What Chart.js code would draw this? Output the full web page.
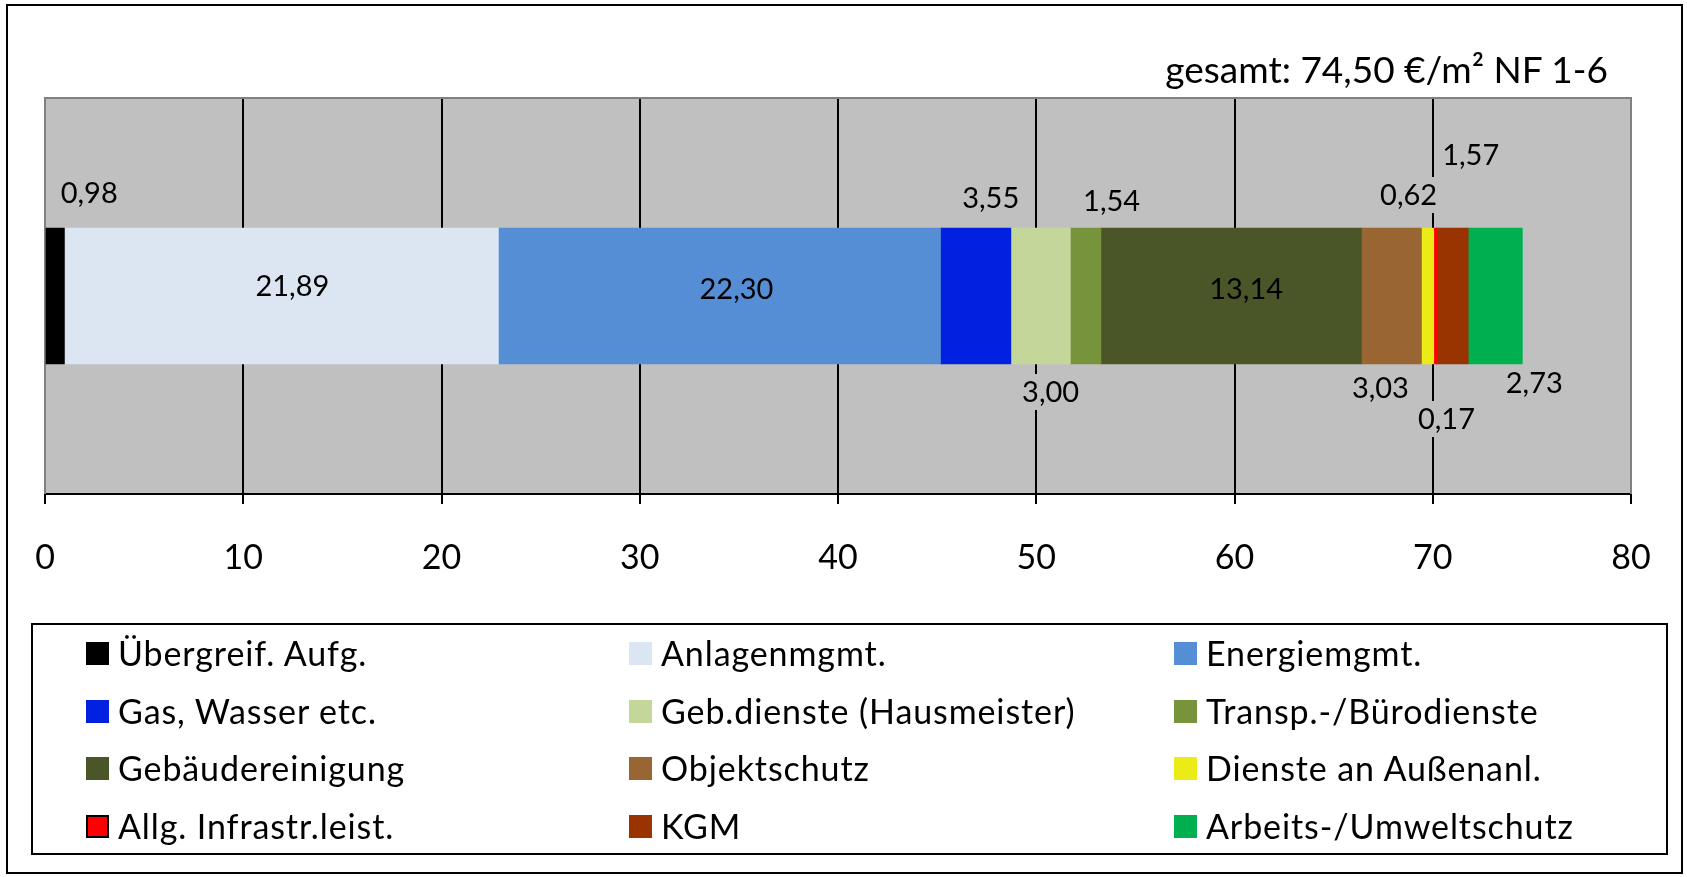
<!DOCTYPE html>
<html>
<head>
<meta charset="utf-8">
<script src="https://cdn.jsdelivr.net/npm/chart.js@4/dist/chart.umd.min.js"></script>
<style>
    html, body { margin: 0; padding: 0; background: #fff; }
    #wrap { position: relative; width: 1687px; height: 877px; font-family: Lato, 'Open Sans', sans-serif; color: #000; }
    #frame { position: absolute; left: 6px; top: 4px; width: 1673px; height: 866px; border: 2px solid #000; }
    #chart { position: absolute; left: 0; top: 0; }
    #title { position: absolute; right: 79px; top: 46px; font-size: 37px; line-height: 46px; white-space: nowrap; }
    #legend { position: absolute; left: 31px; top: 623px; width: 1633px; height: 228px; border: 2px solid #000; }
    .item { position: absolute; font-size: 34px; letter-spacing: 0.9px; line-height: 40px; white-space: nowrap; }
    .item span.box { position: absolute; left: 0; top: 9px; width: 23px; height: 23px; }
    .item span.txt { position: absolute; left: 32px; top: 0; }
</style>
</head>
<body>
<div id="wrap">
    <canvas id="chart" width="1687" height="877"></canvas>
    <div id="frame"></div>
    <div id="title">gesamt: 74,50 €/m² NF 1-6</div>
    <div id="legend"></div>
</div>
<script>
// ===========================
// Kostenaufteilung (horizontal gestapelt)
// ===========================

const CATEGORIES = ['NF 1-6'];

const SERIES_NAMES = [
    'Übergreif. Aufg.', 'Anlagenmgmt.', 'Energiemgmt.',
    'Gas, Wasser etc.', 'Geb.dienste (Hausmeister)', 'Transp.-/Bürodienste',
    'Gebäudereinigung', 'Objektschutz', 'Dienste an Außenanl.',
    'Allg. Infrastr.leist.', 'KGM', 'Arbeits-/Umweltschutz'
];

const SERIES_VALUES = [0.98, 21.89, 22.30, 3.55, 3.00, 1.54, 13.14, 3.03, 0.62, 0.17, 1.57, 2.73];

const X_TICKS = [0, 10, 20, 30, 40, 50, 60, 70, 80];

const COLORS = [
    '#000000', '#dce6f2', '#558ed5',
    '#0022e0', '#c4d79b', '#77933c',
    '#4a5628', '#996633', '#ebeb17',
    '#ff0000', '#993300', '#00b050'
];

// label placement relative to the segment centre (px)
const LABEL_DX = [34, 11, 17, 15, 10, 26, 15, -11, -19, 11, 18, 39];
const LABEL_DY = [-103, -10, -7, -98, 96, -95, -7, 92, -101, 123, -141, 87];
const LABEL_INSIDE = [false, true, true, false, false, false, true, false, false, false, false, false];

const PLOT_BG = '#c0c0c0';

// plot background + grey frame
const plotFrame = {
    id: 'plotFrame',
    beforeDraw(chart) {
        const a = chart.chartArea;
        const ctx = chart.ctx;
        ctx.save();
        ctx.fillStyle = PLOT_BG;
        ctx.fillRect(a.left, a.top, a.right - a.left, a.bottom - a.top);
        ctx.restore();
    },
    beforeDatasetsDraw(chart) {
        const a = chart.chartArea;
        const ctx = chart.ctx;
        ctx.save();
        ctx.strokeStyle = '#808080';
        ctx.lineWidth = 2;
        ctx.beginPath();
        ctx.moveTo(a.left, a.bottom);
        ctx.lineTo(a.left, a.top);
        ctx.lineTo(a.right, a.top);
        ctx.lineTo(a.right, a.bottom);
        ctx.stroke();
        ctx.restore();
    }
};

// value labels, German decimal comma
const valueLabels = {
    id: 'valueLabels',
    afterDatasetsDraw(chart) {
        const ctx = chart.ctx;
        ctx.save();
        ctx.font = '29px Lato';
        ctx.textAlign = 'center';
        ctx.textBaseline = 'middle';
        chart.data.datasets.forEach((ds, i) => {
            const bar = chart.getDatasetMeta(i).data[0];
            if (!bar) return;
            const text = ds.data[0].toFixed(2).replace('.', ',');
            const x = (bar.x + bar.base) / 2 + LABEL_DX[i];
            const y = bar.y + LABEL_DY[i];
            if (!LABEL_INSIDE[i]) {
                const w = ctx.measureText(text).width;
                ctx.fillStyle = PLOT_BG;
                ctx.fillRect(x - w / 2 - 4, y - 18, w + 8, 36);
            }
            ctx.fillStyle = '#000';
            ctx.fillText(text, x, y + 1);
        });
        ctx.restore();
    }
};

const datasets = SERIES_NAMES.map((name, i) => ({
    label: name,
    data: [SERIES_VALUES[i]],
    backgroundColor: COLORS[i],
    borderWidth: 0,
    barThickness: 136
}));

new Chart(document.getElementById('chart'), {
    type: 'bar',
    data: { labels: CATEGORIES, datasets },
    options: {
        indexAxis: 'y',
        responsive: false,
        animation: false,
        devicePixelRatio: 1,
        layout: { padding: { left: 45, right: 56, top: 98, bottom: 0 } },
        plugins: {
            legend: { display: false },
            title: { display: false },
            tooltip: { enabled: false }
        },
        scales: {
            x: {
                stacked: true,
                min: 0,
                max: 80,
                afterBuildTicks: (s) => { s.ticks = X_TICKS.map(v => ({ value: v })); },
                afterFit: (s) => { s.height = 383; },
                ticks: {
                    color: '#000',
                    font: { family: 'Lato', size: 34 },
                    padding: 34,
                    maxRotation: 0
                },
                grid: {
                    color: (c) => (c.tick && (c.tick.value === 0 || c.tick.value === 80)) ? '#808080' : '#000',
                    lineWidth: 2,
                    tickLength: 10,
                    tickColor: '#000',
                    tickWidth: 2
                },
                border: { color: '#000', width: 2 }
            },
            y: {
                stacked: true,
                display: false
            }
        }
    },
    plugins: [plotFrame, valueLabels]
});

// legend box, 3 columns
const legendEl = document.getElementById('legend');
const COL_X = [53, 596, 1141];
const ROW_Y = [8, 66, 123, 181];
SERIES_NAMES.forEach((name, i) => {
    const item = document.createElement('div');
    item.className = 'item';
    item.style.left = COL_X[i % 3] + 'px';
    item.style.top = ROW_Y[Math.floor(i / 3)] + 'px';
    const box = document.createElement('span');
    box.className = 'box';
    box.style.background = COLORS[i];
    if (name === 'Allg. Infrastr.leist.') {
        box.style.boxSizing = 'border-box';
        box.style.border = '2px solid #000';
    }
    const txt = document.createElement('span');
    txt.className = 'txt';
    txt.textContent = name;
    item.appendChild(box);
    item.appendChild(txt);
    legendEl.appendChild(item);
});
</script>
</body>
</html>
